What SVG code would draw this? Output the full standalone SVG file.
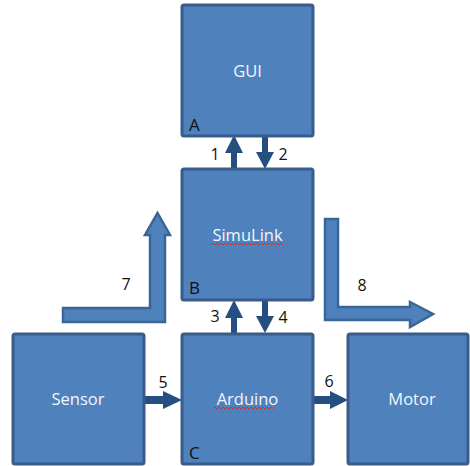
<svg xmlns="http://www.w3.org/2000/svg" width="470" height="466" viewBox="0 0 470 466">
<defs>
<style>
.box{fill:#4f81bd;stroke:#385d8a;stroke-width:3}
.lbl{font-family:"Open Sans","Liberation Sans",sans-serif;font-size:16.5px;fill:#f2f6fb;text-anchor:middle;dominant-baseline:central}
.num{font-family:"Open Sans","Liberation Sans",sans-serif;font-size:16px;fill:#111;text-anchor:middle;dominant-baseline:central}
.let{font-family:"Open Sans","Liberation Sans",sans-serif;font-size:17px;fill:#111}
.thin{fill:#254f80}
.big{fill:#4f81bd;stroke:#3a6696;stroke-width:2.5;stroke-linejoin:miter}
.sq{fill:none;stroke:#d0342c;stroke-width:1}
</style>
</defs>
<rect width="470" height="466" fill="#ffffff"/>
<g id="connectors">
<polygon class="thin" points="231,168 231,153 225,153 234,135 243,153 237,153 237,168"/>
<polygon class="thin" points="262,136 262,152 256,152 265,169 274,152 268,152 268,136"/>
<polygon class="thin" points="231,333 231,318 225,318 234,300 243,318 237,318 237,333"/>
<polygon class="thin" points="262,300 262,316 256,316 265,333 274,316 268,316 268,300"/>
<polygon class="thin" points="144,396 163,396 163,391 182,400 163,409 163,404 144,404"/>
<polygon class="thin" points="313,396 330,396 330,391 348,400 330,409 330,404 313,404"/>
<polygon id="arrow7" class="big" points="63,308 150,308 150,235 145,235 157.5,213 170,235 165,235 165,322 63,322"/>
<polygon id="arrow8" class="big" points="325,219 338,219 338,307 410,307 410,302 433,314 410,327 410,320 325,320"/>
<text class="num" x="215" y="154">1</text>
<text class="num" x="283" y="154">2</text>
<text class="num" x="215" y="316">3</text>
<text class="num" x="283" y="317">4</text>
<text class="num" x="163" y="382">5</text>
<text class="num" x="329" y="381">6</text>
<text class="num" x="126" y="284">7</text>
<text class="num" x="362" y="285">8</text>
</g>
<g id="nodeA">
<rect class="box" x="182" y="5" width="131" height="131" rx="2"/>
<text class="lbl" x="247.5" y="70">GUI</text>
<text class="let" x="189" y="131">A</text>
</g>
<g id="nodeB">
<rect class="box" x="182" y="169" width="131" height="131" rx="2"/>
<text class="lbl" x="247.5" y="234">SimuLink</text>
<path class="sq" d="M211,245 l2,-2 l2,2 l2,-2 l2,2 l2,-2 l2,2 l2,-2 l2,2 l2,-2 l2,2 l2,-2 l2,2 l2,-2 l2,2 l2,-2 l2,2 l2,-2 l2,2 l2,-2 l2,2 l2,-2 l2,2 l2,-2 l2,2 l2,-2 l2,2 l2,-2 l2,2 l2,-2 l2,2 l2,-2 l2,2 l2,-2 l2,2 l2,-2 l2,2"/>
<text class="let" x="189" y="294">B</text>
</g>
<g id="nodeC">
<rect class="box" x="182" y="334" width="131" height="130" rx="2"/>
<text class="lbl" x="247.5" y="398">Arduino</text>
<path class="sq" d="M213,409 l2,-2 l2,2 l2,-2 l2,2 l2,-2 l2,2 l2,-2 l2,2 l2,-2 l2,2 l2,-2 l2,2 l2,-2 l2,2 l2,-2 l2,2 l2,-2 l2,2 l2,-2 l2,2 l2,-2 l2,2 l2,-2 l2,2 l2,-2 l2,2 l2,-2 l2,2 l2,-2 l2,2"/>
<text class="let" x="189" y="459">C</text>
</g>
<g id="sensor">
<rect class="box" x="13" y="334" width="131" height="130" rx="2"/>
<text class="lbl" x="78" y="398">Sensor</text>
</g>
<g id="motor">
<rect class="box" x="348" y="334" width="120" height="130" rx="2"/>
<text class="lbl" x="412" y="398">Motor</text>
</g>
</svg>
